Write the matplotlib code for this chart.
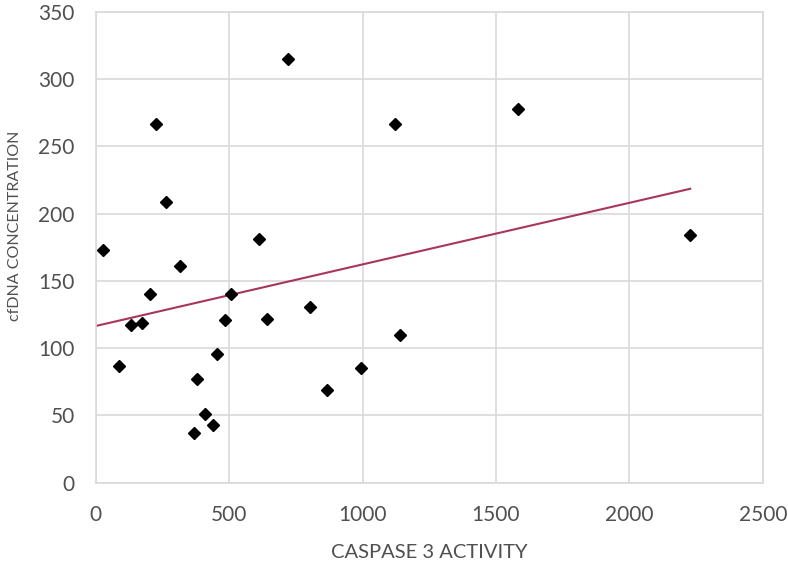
import matplotlib
matplotlib.use("Agg")
import matplotlib.pyplot as plt
import numpy as np

# caspase 3 activity vs cfDNA concentration
caspase = [26, 225, 263, 316, 720, 613, 1122, 1582, 2228,
           203, 132, 175, 88, 378, 370, 410, 441, 453, 486, 506,
           641, 803, 866, 993, 1140]
cfdna = [173, 267, 209, 161, 315, 181, 267, 278, 184,
         140, 117, 119, 87, 77, 37, 51, 43, 96, 121, 140,
         122, 131, 69, 85, 110]
# linear trendline as shown in the reference
trend_intercept = 116.5
trend_slope = 0.0458
xticks = [0, 500, 1000, 1500, 2000, 2500]
yticks = [0, 50, 100, 150, 200, 250, 300, 350]

TXT, GRID, TREND = "#505050", "#D9D9D9", "#A8365C"
plt.rcParams["font.family"] = ["Lato", "DejaVu Sans"]

fig = plt.figure(figsize=(7.88, 5.61), dpi=100)
ax = fig.add_axes([0.1214, 0.1396, 0.8466, 0.839])

x = np.array(caspase, dtype=float)
y = np.array(cfdna, dtype=float)
xs = np.array([0, x.max()])
ax.plot(xs, trend_intercept + trend_slope * xs, color=TREND, lw=1.5, zorder=2)
ax.plot(x, y, "D", color="black", ms=6, zorder=3, clip_on=False)

ax.set_xlim(0, 2500); ax.set_ylim(0, 350)
ax.set_xticks(xticks); ax.set_yticks(yticks)
ax.grid(color=GRID, lw=1.2, zorder=0)
ax.set_axisbelow(True)
for s in ax.spines.values():
    s.set_color(GRID); s.set_linewidth(1.2)
ax.tick_params(length=0, labelsize=15, colors=TXT)
ax.tick_params(axis="x", pad=16)
ax.tick_params(axis="y", pad=15)
ax.set_xlabel("CASPASE 3 ACTIVITY", fontsize=14.5, color=TXT)
ax.set_ylabel("cfDNA CONCENTRATION", fontsize=11.5, color=TXT)
ax.xaxis.set_label_coords(0.5, -0.149)
ax.yaxis.set_label_coords(-0.121, 0.545)
for lab in (ax.xaxis.label, ax.yaxis.label):
    lab.set_va("center")

fig.savefig("out.png", dpi=100)
